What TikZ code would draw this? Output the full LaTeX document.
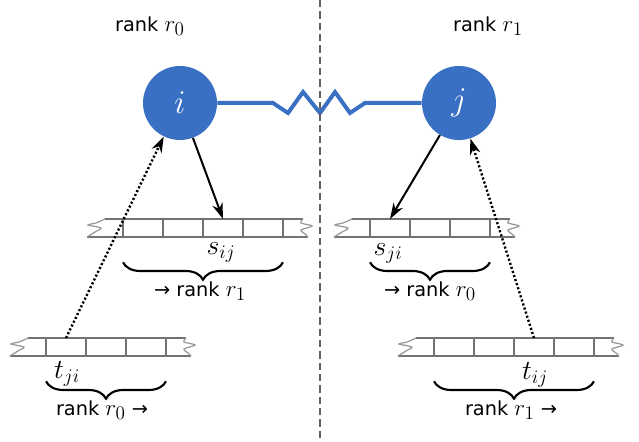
\documentclass[tikz,border=0pt]{standalone}
\usepackage{fontspec}
\setmainfont{DejaVu Sans}
\usetikzlibrary{arrows.meta,decorations.pathreplacing}
\definecolor{nodeblue}{RGB}{58,112,196}
\definecolor{arraygray}{RGB}{115,115,115}
\definecolor{teargray}{RGB}{150,150,150}
\newcommand{\rankvar}[1]{{\fontsize{19}{21}\selectfont$r_{#1}$}}
\tikzset{
  slot/.style={rectangle, draw=arraygray, line width=1.5pt, minimum width=30pt, minimum height=13.5pt, inner sep=0pt, outer sep=0pt},
  arrayline/.style={draw=arraygray, line width=1.5pt},
  tornline/.style={draw=teargray, line width=0.9pt},
  tornleft/.pic={
    \draw[arrayline] (0,0) -- (-18,0);
    \draw[arrayline] (0,18) -- (-36,18);
    \draw[tornline] plot[smooth, tension=0.5] coordinates {(-18,0) (-27,4) (-35,6) (-22,9) (-28,13) (-36,18)};
  },
  tornright/.pic={
    \draw[arrayline] (0,0) -- (20,0);
    \draw[arrayline] (0,18) -- (25,18);
    \draw[tornline] plot[smooth, tension=0.5] coordinates {(20,0) (18,4) (29,7) (18,11) (22,15) (25,18)};
  },
}
\begin{document}
\begin{tikzpicture}[x=0.75pt, y=-0.75pt,
  vertex/.style={circle, fill=nodeblue, minimum size=55.5pt, inner sep=0pt, text=white, font=\fontsize{28}{30}\selectfont},
  link/.style={draw=nodeblue, line width=3pt, line join=miter},
  divider/.style={draw=black!62, line width=1.8pt, dash pattern=on 5.5pt off 3pt},
  sendarrow/.style={line width=1.5pt, -{Stealth[length=12pt, width=8pt]}},
  recvarrow/.style={line width=1.8pt, dash pattern=on 1.6pt off 1.6pt, -{Stealth[length=12pt, width=8pt]}},
  brace/.style={decorate, decoration={brace, mirror, amplitude=13pt}, line width=1.6pt},
  mathlabel/.style={font=\fontsize{20}{22}\selectfont, inner sep=0pt},
  ranklabel/.style={font=\fontsize{14.5}{17}\selectfont, inner sep=0pt}]
\useasboundingbox (0,0) rectangle (639,442);

\node[ranklabel] (rank0) at (150,26) {rank \rankvar{0}};
\node[ranklabel] (rank1) at (488,26) {rank \rankvar{1}};

\node[vertex] (i) at (180,103) {$i$};
\node[vertex] (j) at (459,103) {$j$};
\draw[link] (i) -- (273,103) -- (288,113) -- (303,92) -- (320,113) -- (335,92) -- (350,113) -- (365,103) -- (j);

\coordinate (divtop) at (320,0);
\coordinate (divbottom) at (320,442);
\draw[divider] (divtop) -- (divbottom);

\node[slot] (a1) at (143,228){};
\node[slot] (a2) at (183,228){};
\node[slot] (a3) at (223,228){};
\node[slot] (a4) at (263,228){};
\pic at (a1.north west) {tornleft};
\pic at (a4.north east) {tornright};

\node[slot] (b1) at (390,228){};
\node[slot] (b2) at (430,228){};
\node[slot] (b3) at (470,228){};
\pic at (b1.north west) {tornleft};
\pic at (b3.north east) {tornright};

\node[slot] (c1) at (66,347){};
\node[slot] (c2) at (106,347){};
\node[slot] (c3) at (146,347){};
\pic at (c1.north west) {tornleft};
\pic at (c3.north east) {tornright};

\node[slot] (d1) at (454,347){};
\node[slot] (d2) at (494,347){};
\node[slot] (d3) at (534,347){};
\node[slot] (d4) at (574,347){};
\pic at (d1.north west) {tornleft};
\pic at (d4.north east) {tornright};

\draw[sendarrow] (i) -- (a3.north);
\draw[sendarrow] (j) -- (b1.north);
\draw[recvarrow] (c1.north) -- (i);
\draw[recvarrow] (d3.north) -- (j);

\node[mathlabel] (sij) at (221,252) {$s_{ij}$};
\node[mathlabel] (sji) at (388,253) {$s_{ji}$};
\node[mathlabel] (tji) at (67,374) {$t_{ji}$};
\node[mathlabel] (tij) at (535,375) {$t_{ij}$};

\draw[brace] ([yshift=-19pt]a1.south west) -- ([yshift=-19pt]a4.south east);
\draw[brace] ([yshift=-19pt]b1.south west) -- ([yshift=-19pt]b3.south east);
\draw[brace] ([yshift=-19pt]c1.south west) -- ([yshift=-19pt]c3.south east);
\draw[brace] ([yshift=-19pt]d1.south west) -- ([yshift=-19pt]d4.south east);

\node[ranklabel] (toright) at (200,291) {→ rank \rankvar{1}};
\node[ranklabel] (toleft) at (430,291) {→ rank \rankvar{0}};
\node[ranklabel] (fromleft) at (102,410) {rank \rankvar{0} →};
\node[ranklabel] (fromright) at (511,410) {rank \rankvar{1} →};

\end{tikzpicture}
\end{document}
